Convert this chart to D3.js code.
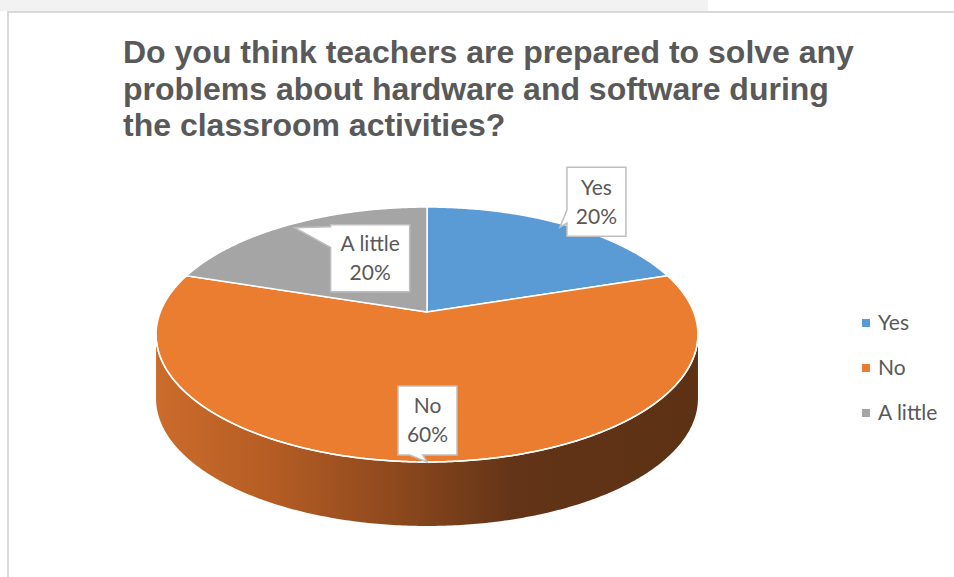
<!DOCTYPE html>
<html>
<head>
<meta charset="utf-8">
<script src="https://cdn.jsdelivr.net/npm/d3@7"></script>
<style>
  html, body { margin: 0; padding: 0; background: #ffffff; }
  svg { display: block; }
</style>
</head>
<body>
<svg id="chart" width="954" height="577"></svg>
<script>
// Survey answers
const categories = ["Yes", "No", "A little"];
const values = [20, 60, 20];
const sliceColors = ["#5b9bd5", "#eb7d31", "#a5a5a5"];
const titleLines = [
  "Do you think teachers are prepared to solve any",
  "problems about hardware and software during",
  "the classroom activities?"
];

const svg = d3.select("#chart");
const W = 954, H = 577;

// Frame: light band on top, grey borders of the chart area
svg.append("rect").attr("x", 0).attr("y", 0).attr("width", 708).attr("height", 11).attr("fill", "#f2f2f2");
svg.append("line").attr("x1", 7).attr("x2", W).attr("y1", 12).attr("y2", 12)
  .attr("stroke", "#d9d9d9").attr("stroke-width", 2);
svg.append("line").attr("x1", 8).attr("x2", 8).attr("y1", 11).attr("y2", H)
  .attr("stroke", "#d9d9d9").attr("stroke-width", 2);

// Title
const title = svg.append("text")
  .attr("font-family", "'Liberation Sans', Arial, sans-serif")
  .attr("font-weight", "bold").attr("font-size", 32).attr("fill", "#595959");
titleLines.forEach((t, i) => {
  title.append("tspan").attr("x", 123).attr("y", 63 + i * 36.5).text(t);
});

// Tilted disc: a plane homography maps the unit circle onto the screen
const cx = 427, cy = 312;   // projected pie centre
const A = 266.7, C = 123.5; // horizontal / vertical scale
const g = 0.1765;           // perspective foreshortening toward the back
const depth = 64;           // thickness of the pie
function proj(theta, r = 1, dy = 0) {
  const u = r * Math.sin(theta), v = r * Math.cos(theta);
  const d = 1 + g * v;
  return [cx + A * u / d, cy - C * v / d + dy];
}
function arcPoints(a0, a1, r = 1, dy = 0) {
  const n = Math.max(8, Math.ceil(Math.abs(a1 - a0) / 0.01));
  return d3.range(n + 1).map(i => proj(a0 + (a1 - a0) * i / n, r, dy));
}
const line = d3.line();

const pie = d3.pie().sort(null).startAngle(0).endAngle(2 * Math.PI);
const arcs = pie(values);
const total = d3.sum(values);

// Front wall (only the visible front half of the rim)
const thR = Math.acos(-g), thL = 2 * Math.PI - Math.acos(-g);
const defs = svg.append("defs");
const grad = defs.append("linearGradient").attr("id", "sideGrad")
  .attr("gradientUnits", "userSpaceOnUse")
  .attr("x1", 155).attr("x2", 698).attr("y1", 0).attr("y2", 0);
[[0, "#cc6c2b"], [0.22, "#b45c24"], [0.45, "#8c481d"], [0.66, "#633417"], [1, "#5c3114"]]
  .forEach(([o, c]) => grad.append("stop").attr("offset", o).attr("stop-color", c));

const sideTop = arcPoints(thR, thL);
const sideBottom = arcPoints(thL, thR, 1, depth);
svg.append("path")
  .attr("d", line(sideTop.concat(sideBottom)) + "Z")
  .attr("fill", "url(#sideGrad)");

// Top face slices
svg.append("g").selectAll("path").data(arcs).join("path")
  .attr("d", d => line([proj(0, 0)].concat(arcPoints(d.startAngle, d.endAngle))) + "Z")
  .attr("fill", (d, i) => sliceColors[i])
  .attr("stroke", "#ffffff").attr("stroke-width", 1.5).attr("stroke-linejoin", "round");

// Light edge along the front rim
svg.append("path").attr("d", line(sideTop)).attr("fill", "none")
  .attr("stroke", "#ffffff").attr("stroke-width", 1.5);

// Callout labels
const labelLayout = {
  "Yes":      { rTip: 0.965, dx: 36.5, dy: -25.5, w: 59, h: 69, side: "left",   b0: 0.62, b1: 0.81 },
  "No":       { rTip: 1.0,   dx: 0.5,  dy: -41.5, w: 59, h: 69, side: "bottom", b0: 0.20, b1: 0.42 },
  "A little": { rTip: 0.96,  dx: 75.5, dy: 30.5,  w: 79, h: 67, side: "left",   b0: 0.03, b1: 0.34 }
};
function calloutPath(x, y, w, h, side, b0, b1, tip) {
  const p = [];
  p.push([x, y], [x + w, y], [x + w, y + h]);
  if (side === "bottom") {
    p.push([x + w * b1, y + h], tip, [x + w * b0, y + h]);
  }
  p.push([x, y + h]);
  if (side === "left") {
    p.push([x, y + h * b1], tip, [x, y + h * b0]);
  }
  return line(p) + "Z";
}
const labels = svg.append("g")
  .attr("font-family", "Lato, 'Open Sans', sans-serif")
  .attr("font-size", 21).attr("fill", "#595959");
arcs.forEach((d, i) => {
  const name = categories[i];
  const L = labelLayout[name];
  const mid = (d.startAngle + d.endAngle) / 2;
  const tip = proj(mid, L.rTip);
  const bcx = tip[0] + L.dx, bcy = tip[1] + L.dy;
  const bx = bcx - L.w / 2, by = bcy - L.h / 2;
  labels.append("path")
    .attr("d", calloutPath(bx, by, L.w, L.h, L.side, L.b0, L.b1, tip))
    .attr("fill", "#ffffff").attr("stroke", "#bfbfbf").attr("stroke-width", 1.5);
  labels.append("text").attr("x", bcx).attr("y", bcy - 7).attr("text-anchor", "middle").text(name);
  labels.append("text").attr("x", bcx).attr("y", bcy + 22).attr("text-anchor", "middle")
    .text(Math.round(d.data / total * 100) + "%");
});

// Legend
const legend = svg.append("g")
  .attr("font-family", "Lato, 'Open Sans', sans-serif")
  .attr("font-size", 21).attr("fill", "#595959");
const ly = d3.scalePoint().domain(categories).range([323, 413]);
categories.forEach((c, i) => {
  legend.append("rect").attr("x", 862).attr("y", ly(c) - 4).attr("width", 8).attr("height", 8)
    .attr("fill", sliceColors[i]);
  legend.append("text").attr("x", 878).attr("y", ly(c) + 7).text(c);
});
</script>
</body>
</html>
